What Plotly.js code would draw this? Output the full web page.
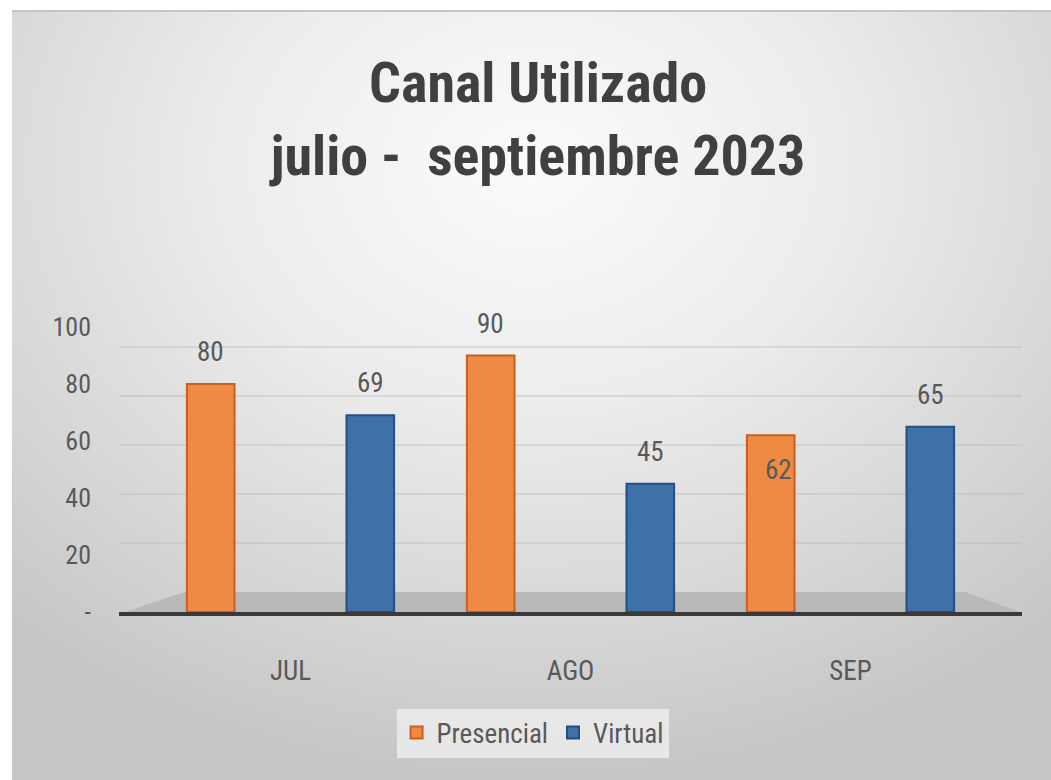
<!DOCTYPE html>
<html>
<head>
<meta charset="utf-8">
<script src="https://cdn.plot.ly/plotly-3.0.1.min.js"></script>
<style>
  html, body { margin: 0; padding: 0; background: #ffffff; }
  #bg {
    position: absolute; left: 12px; top: 10px; width: 1039px; height: 770px;
    background: radial-gradient(ellipse 75% 80% at 50% 20%, #fbfbfb 0%, #ececec 40%, #d6d6d6 75%, #c6c6c6 100%);
    border-top: 2px solid #c4c4c4;
  }
  #chart { position: absolute; left: 0; top: 0; width: 1051px; height: 780px; }
</style>
</head>
<body>
<div id="bg"></div>
<div id="chart"></div>
<script>
// ---- data ----
const categories = ["JUL", "AGO", "SEP"];
const presencial = [80, 90, 62];
const virtual = [69, 45, 65];
const seriesNames = ["Presencial", "Virtual"];
const yTickVals = [0, 20, 40, 60, 80, 100];
const yTickText = ["-", "20", "40", "60", "80", "100"];

// ---- style ----
const FONT = "'Liberation Sans Narrow', 'Arial Narrow', 'Roboto Condensed', 'Liberation Sans', sans-serif";
const TXT = "#595959";
const orange = "#EF8A45", orangeLine = "#C95F1A";
const blue = "#3E71A8", blueLine = "#22507F";
const barW = 0.17;
const offP = -0.37, offV = 0.2;
// label nudges (pixels) per point, Excel 3D label placement
const labelDyP = [32, 32, -35], labelDxP = [0, 0, 8];
const labelDyV = [32, 32, 32], labelDxV = [0, 0, 0];

const idx = categories.map((c, i) => i);

const traces = [
  {
    type: "bar", name: seriesNames[0], x: idx, y: presencial,
    width: barW, offset: offP,
    marker: { color: orange, line: { color: orangeLine, width: 2 } },
    hoverinfo: "y"
  },
  {
    type: "bar", name: seriesNames[1], x: idx, y: virtual,
    width: barW, offset: offV,
    marker: { color: blue, line: { color: blueLine, width: 2 } },
    hoverinfo: "y"
  },
  { type: "scatter", x: [], y: [], yaxis: "y2", showlegend: false, hoverinfo: "skip" }
];

const annotations = [];
presencial.forEach((v, i) => annotations.push({
  x: i + offP + barW / 2, y: v, xref: "x", yref: "y", text: String(v),
  showarrow: false, yanchor: "middle", yshift: labelDyP[i], xshift: labelDxP[i],
  font: { family: FONT, size: 27, color: TXT }
}));
virtual.forEach((v, i) => annotations.push({
  x: i + offV + barW / 2, y: v, xref: "x", yref: "y", text: String(v),
  showarrow: false, yanchor: "middle", yshift: labelDyV[i], xshift: labelDxV[i],
  font: { family: FONT, size: 27, color: TXT }
}));

const layout = {
  width: 1051, height: 780,
  paper_bgcolor: "rgba(0,0,0,0)", plot_bgcolor: "rgba(0,0,0,0)",
  margin: { l: 119, r: 29, t: 327, b: 168 },
  font: { family: FONT, color: TXT },
  title: {
    text: "Canal Utilizado<br>julio -\u00a0 septiembre 2023",
    x: 0.512, xanchor: "center", y: 0.869, yanchor: "middle",
    font: { family: FONT, size: 56, color: "#404040", weight: "bold" }
  },
  barmode: "overlay",
  xaxis: {
    type: "linear", range: [-0.6125, 2.6125],
    tickvals: idx, ticktext: categories,
    showgrid: false, zeroline: false,
    showline: true, linecolor: "#3a3a3a", linewidth: 4,
    ticks: "", ticklabelstandoff: 32,
    tickfont: { family: FONT, size: 27, color: TXT },
    fixedrange: true
  },
  yaxis: {
    range: [0, 100], tickvals: yTickVals, ticktext: yTickText,
    showgrid: false, zeroline: false, showline: false,
    ticks: "", ticklabelstandoff: 27,
    tickfont: { family: FONT, size: 26, color: TXT },
    fixedrange: true
  },
  yaxis2: {
    overlaying: "y", side: "left", range: [-8.16, 108.1],
    tickvals: [20, 40, 60, 80, 100], showticklabels: false,
    showgrid: true, gridcolor: "rgba(185,185,185,0.4)", gridwidth: 1.5,
    zeroline: false, showline: false, ticks: "", fixedrange: true
  },
  shapes: [
    {
      type: "path", xref: "paper", yref: "paper", layer: "below",
      path: "M 0.0066 0 L 0.073 0.0702 L 0.937 0.0702 L 0.998 0 Z",
      fillcolor: "#b9b9b9", line: { width: 0 }
    }
  ],
  annotations: annotations,
  showlegend: true,
  legend: {
    orientation: "h", x: 0.458, xanchor: "center", y: -0.4246, yanchor: "middle",
    bgcolor: "rgba(236,236,236,0.85)", borderwidth: 0,
    font: { family: FONT, size: 27, color: TXT },
    itemwidth: 30, traceorder: "normal"
  }
};

Plotly.newPlot("chart", traces, layout, { displayModeBar: false, staticPlot: true });
</script>
</body>
</html>
